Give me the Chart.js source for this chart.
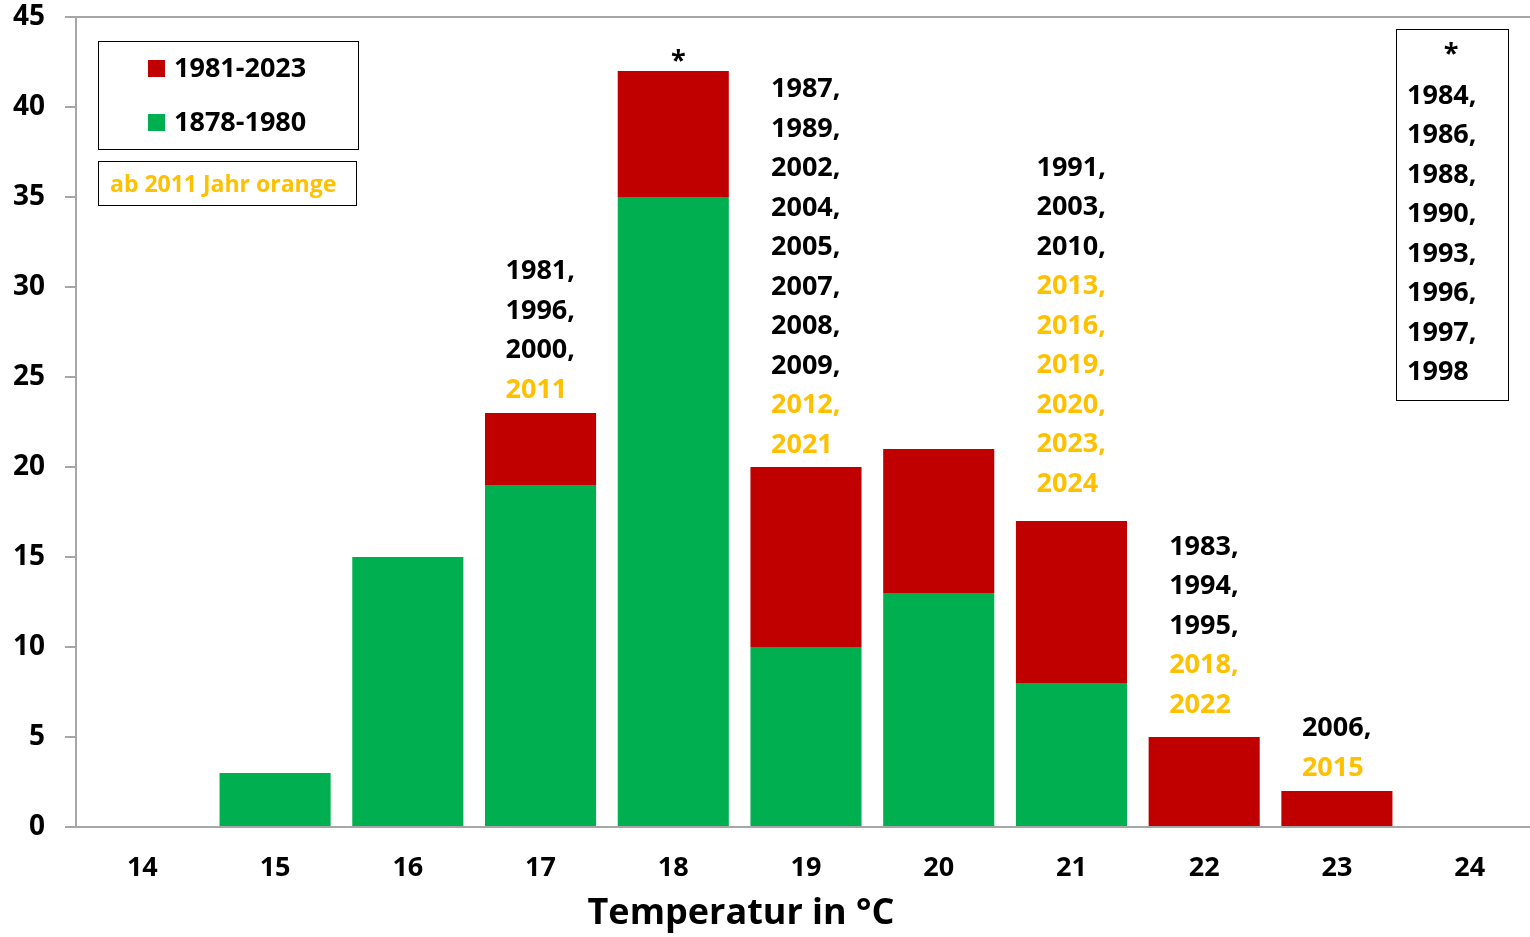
<!DOCTYPE html>
<html lang="de">
<head>
<meta charset="utf-8">
<title>Temperatur</title>
<script src="https://cdn.jsdelivr.net/npm/chart.js@4.4.1/dist/chart.umd.min.js"></script>
<style>
  html, body { margin: 0; padding: 0; background: #fff; overflow: hidden; }
  #wrap { width: 1536px; height: 937px; position: relative; }
</style>
</head>
<body>
<div id="wrap"><canvas id="tempChart"></canvas></div>
<script>
// Kategorien (Temperatur in °C)
const categories = ["14", "15", "16", "17", "18", "19", "20", "21", "22", "23", "24"];

// Anzahl Jahre je Temperaturklasse
const values1878to1980 = [0, 3, 15, 19, 35, 10, 13, 8, 0, 0, 0];
const values1981to2023 = [0, 0, 0, 4, 7, 10, 8, 9, 5, 2, 0];

const yTicks = [0, 5, 10, 15, 20, 25, 30, 35, 40, 45];

// Jahreszahlen über den Balken
const years17 = ["1981,", "1996,", "2000,", "2011"];
const years18 = ["*"];
const years19 = ["1987,", "1989,", "2002,", "2004,", "2005,", "2007,", "2008,", "2009,", "2012,", "2021"];
const years21 = ["1991,", "2003,", "2010,", "2013,", "2016,", "2019,", "2020,", "2023,", "2024"];
const years22 = ["1983,", "1994,", "1995,", "2018,", "2022"];
const years23 = ["2006,", "2015"];
const yearsStar = ["1984,", "1986,", "1988,", "1990,", "1993,", "1996,", "1997,", "1998"];

const RED = "#C00000";
const GREEN = "#00B050";
const ORANGE = "#FFC000";
const AXIS = "#A6A6A6";
const FONT = "'Open Sans', 'DejaVu Sans', sans-serif";

function yearColor(txt) {
  var y = parseInt(txt, 10);
  return y >= 2011 ? ORANGE : "#000";
}

// Plugin: Legende, Hinweisbox, Jahreszahlen, Achsentitel
const annotatePlugin = {
  id: "annotate",
  afterDraw: function (chart) {
    const ctx = chart.ctx;
    const xs = chart.scales.x;
    const ys = chart.scales.y;
    const ds = chart.data.datasets;
    ctx.save();

    // --- Legende ---
    ctx.strokeStyle = "#000";
    ctx.lineWidth = 1;
    ctx.strokeRect(98.5, 41.5, 260, 108);
    ctx.font = "bold 27px " + FONT;
    ctx.textBaseline = "middle";
    ctx.textAlign = "left";
    [ds[1], ds[0]].forEach(function (d, i) {
      var cy = 68 + i * 54;
      ctx.fillStyle = d.backgroundColor;
      ctx.fillRect(148, cy - 8, 17, 17);
      ctx.fillStyle = "#000";
      ctx.fillText(d.label, 174, cy + 1);
    });

    // --- Hinweisbox ---
    ctx.strokeRect(98.5, 161.5, 258, 44);
    ctx.font = "bold 23px " + FONT;
    ctx.fillStyle = ORANGE;
    ctx.fillText("ab 2011 Jahr orange", 110, 185);

    // --- Jahreszahlen über den Balken ---
    const lineH = 39.5;
    const groups = [
      { idx: 3, lines: years17, gap: 23 },
      { idx: 5, lines: years19, gap: 22 },
      { idx: 7, lines: years21, gap: 37 },
      { idx: 8, lines: years22, gap: 32 },
      { idx: 9, lines: years23, gap: 23 },
    ];
    ctx.font = "bold 27px " + FONT;
    groups.forEach(function (g) {
      var total = values1878to1980[g.idx] + values1981to2023[g.idx];
      var x = xs.getPixelForValue(g.idx) - 35;
      var lastY = ys.getPixelForValue(total) - g.gap;
      g.lines.forEach(function (t, i) {
        ctx.fillStyle = yearColor(t);
        ctx.fillText(t, x, lastY - (g.lines.length - 1 - i) * lineH);
      });
    });

    // Stern über 18
    ctx.textAlign = "center";
    ctx.fillStyle = "#000";
    ctx.textBaseline = "alphabetic";
    ctx.fillText(years18[0], xs.getPixelForValue(4) + 5, 69);

    // --- Box rechts oben ---
    ctx.strokeRect(1396.5, 29.5, 112, 371);
    ctx.fillText("*", 1451, 62);
    ctx.textAlign = "left";
    ctx.textBaseline = "middle";
    yearsStar.forEach(function (t, i) {
      ctx.fillStyle = yearColor(t);
      ctx.fillText(t, 1407, 96 + i * lineH);
    });

    // --- Achsentitel ---
    ctx.textAlign = "center";
    ctx.fillStyle = "#000";
    ctx.font = "bold 36px " + FONT;
    ctx.fillText("Temperatur in °C", 741, 914);

    ctx.restore();
  },
};

document.addEventListener("DOMContentLoaded", function () {
  const el = document.getElementById("tempChart");

  new Chart(el, {
    type: "bar",
    data: {
      labels: categories,
      datasets: [
        {
          label: "1878-1980",
          data: values1878to1980,
          backgroundColor: GREEN,
          barPercentage: 0.837,
          categoryPercentage: 1,
        },
        {
          label: "1981-2023",
          data: values1981to2023,
          backgroundColor: RED,
          barPercentage: 0.837,
          categoryPercentage: 1,
        },
      ],
    },
    options: {
      responsive: true,
      maintainAspectRatio: false,
      animation: false,
      layout: { padding: { left: 0, right: 0, top: 17, bottom: 0 } },
      plugins: {
        legend: { display: false },
        tooltip: { enabled: false },
      },
      scales: {
        x: {
          stacked: true,
          grid: { display: false, drawTicks: false },
          border: { color: AXIS, width: 2 },
          ticks: {
            padding: 25,
            color: "#000",
            font: { family: FONT, size: 27, weight: "bold" },
          },
          afterFit: function (scale) {
            scale.height = 110;
            scale.paddingLeft = 0;
            scale.paddingRight = 0;
          },
        },
        y: {
          stacked: true,
          min: 0,
          max: 45,
          afterBuildTicks: function (scale) {
            scale.ticks = yTicks.map(function (v) { return { value: v }; });
          },
          grid: {
            color: function (c) {
              return c.tick && c.tick.value === 45 ? AXIS : "rgba(0,0,0,0)";
            },
            tickColor: AXIS,
            tickLength: 11,
            lineWidth: 2,
          },
          border: { color: AXIS, width: 2 },
          ticks: {
            padding: 20,
            color: "#000",
            font: { family: FONT, size: 28, weight: "bold" },
          },
          afterFit: function (scale) {
            scale.width = 76;
            // Beschriftung darf über den Rand ragen
            scale.paddingTop = 0;
            scale.paddingBottom = 0;
          },
        },
      },
    },
    plugins: [annotatePlugin],
  });
});
</script>
</body>
</html>
